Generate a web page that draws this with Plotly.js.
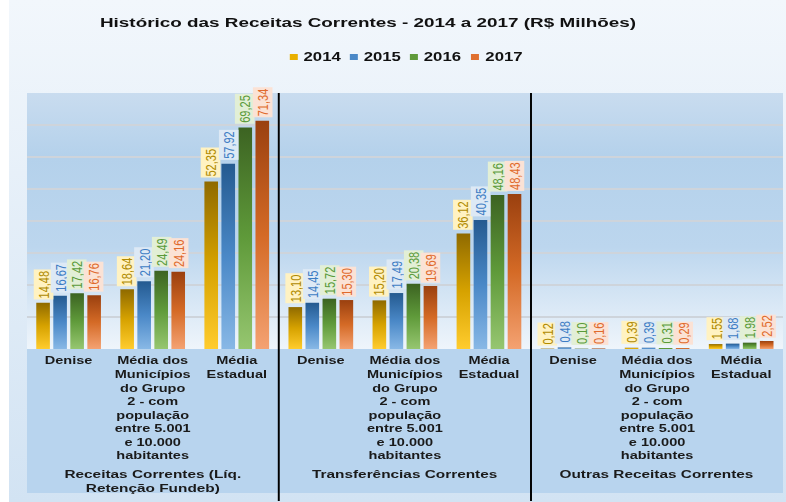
<!DOCTYPE html>
<html>
<head>
<meta charset="utf-8">
<script src="https://cdn.plot.ly/plotly-3.0.1.min.js"></script>
<style>
html,body{margin:0;padding:0;background:#ffffff;overflow:hidden;}
#wrap{position:relative;width:786px;height:502px;overflow:hidden;}
.bg{position:absolute;}
#chart{position:absolute;left:0;top:0;width:562px;height:502px;transform:scaleX(1.398577);transform-origin:0 0;}
</style>
</head>
<body>
<div id="wrap">
  <div class="bg" style="left:9px;top:0;width:777px;height:502px;background:linear-gradient(#f2f7fc,#d2e3f3);"></div>
  <div class="bg" style="left:27px;top:93px;width:756px;height:256px;background:linear-gradient(#c9dcef 0%,#b4d1eb 25%,#bcd6ee 60%,#eff5fb 100%);"></div>
  <div class="bg" style="left:27px;top:349px;width:756px;height:144px;background:#b8d4ee;"></div>
  <div id="chart"></div>
</div>
<script>
// ---------------- DATA ----------------
var groups = ["Receitas Correntes (Líq.<br>Retenção Fundeb)", "Transferências Correntes", "Outras Receitas Correntes"];
var categories = ["Denise",
  "Média dos<br>Municípios<br>do Grupo<br>2 - com<br>população<br>entre 5.001<br>e 10.000<br>habitantes",
  "Média<br>Estadual"];
var years = ["2014", "2015", "2016", "2017"];
var v2014 = [14.48, 18.64, 52.35, 13.10, 15.20, 36.12, 0.12, 0.39, 1.55];
var v2015 = [16.67, 21.20, 57.92, 14.45, 17.49, 40.35, 0.48, 0.39, 1.68];
var v2016 = [17.42, 24.49, 69.25, 15.72, 20.38, 48.16, 0.10, 0.31, 1.98];
var v2017 = [16.76, 24.16, 71.34, 15.30, 19.69, 48.43, 0.16, 0.29, 2.52];
var titleText = "Histórico das Receitas Correntes - 2014 a 2017 (R$ Milhões)";

// ---------------- STYLE ----------------
var series = [v2014, v2015, v2016, v2017];
var solid = ["#e9b000", "#4a88c7", "#5f9a3a", "#e07030"];
var gradStops = [
  ["#8f6a00", "#d6a200", "#ffcc2e"],
  ["#245a90", "#4a88c7", "#88b8e6"],
  ["#3c6322", "#5f9a3a", "#96c670"],
  ["#9a400f", "#d46a26", "#f4a272"]
];
var lblBg = ["#fff2c2", "#dde9f5", "#e2efd6", "#fbe2d5"];
var lblFg = ["#b08a00", "#3d7dc4", "#5a9a3a", "#e06a2c"];
var FONT = "Liberation Sans, Arial, sans-serif";

var S = 786 / 562;           // horizontal stretch
var ML = 27 / S, MR = 562 - 783 / S, MT = 93, MB = 502 - 349;
var plotW = 562 - ML - MR, plotH = 502 - MT - MB;
function px2paperX(xa) { return (xa / S - ML) / plotW; }
function px2paperY(ya) { return 1 - (ya - MT) / plotH; }

var n = v2014.length;
var xs = [], tickText = [];
for (var i = 0; i < n; i++) { xs.push(i); tickText.push(categories[i % 3]); }

var bargap = 0.19;
var slot = (1 - bargap) / 4;

var traces = series.map(function (vals, s) {
  return {
    type: "bar", x: xs, y: vals, name: years[s],
    marker: { color: solid[s], line: { width: 0 } },
    hoverinfo: "skip", showlegend: false
  };
});

function fmt(v) { return v.toFixed(2).replace(".", ","); }

var annotations = [];
series.forEach(function (vals, s) {
  vals.forEach(function (v, i) {
    annotations.push({
      x: i + (s - 1.5) * slot, y: v, xref: "x", yref: "y",
      text: fmt(v), showarrow: false, textangle: -90,
      xanchor: "center", yanchor: "bottom", yshift: 3,
      bgcolor: lblBg[s], borderpad: 0.5,
      font: { family: FONT, size: 11, color: lblFg[s] }
    });
  });
});
groups.forEach(function (g, k) {
  annotations.push({
    x: 3 * k + 1, xref: "x", y: px2paperY(466), yref: "paper",
    text: g, showarrow: false, xanchor: "center", yanchor: "top",
    font: { family: FONT, size: 11, color: "#1a1a1a", weight: "bold" }
  });
});

// legend (manual, compact)
var legSq = [290, 350, 410, 471];
var legY = 57;
var shapes = [];
years.forEach(function (y, s) {
  shapes.push({
    type: "rect", xref: "paper", yref: "paper",
    x0: px2paperX(legSq[s]), x1: px2paperX(legSq[s] + 8),
    y0: px2paperY(legY + 3), y1: px2paperY(legY - 3),
    fillcolor: solid[s], line: { width: 0 }
  });
  annotations.push({
    x: px2paperX(legSq[s] + 11), xref: "paper", y: px2paperY(legY), yref: "paper",
    text: y, showarrow: false, xanchor: "left", yanchor: "middle",
    font: { family: FONT, size: 12, color: "#111111", weight: "bold" }
  });
});
[2.5, 5.5].forEach(function (xv) {
  shapes.push({
    type: "line", xref: "x", yref: "paper", x0: xv, x1: xv,
    y0: px2paperY(501), y1: 1, line: { color: "#000000", width: 1.4 }
  });
});

var layout = {
  width: 562, height: 502,
  margin: { l: ML, r: MR, t: MT, b: MB, pad: 0 },
  paper_bgcolor: "rgba(0,0,0,0)", plot_bgcolor: "rgba(0,0,0,0)",
  font: { family: FONT, color: "#1a1a1a" },
  title: {
    text: titleText, x: 368 / 786, xanchor: "center", xref: "container",
    y: 1 - 22 / 502, yanchor: "middle", yref: "container",
    font: { family: FONT, size: 13.5, color: "#111111", weight: "bold" }
  },
  barmode: "group", bargap: bargap, bargroupgap: 0.2,
  xaxis: {
    range: [-0.5, 8.5], tickmode: "array", tickvals: xs, ticktext: tickText,
    showgrid: false, zeroline: false, showline: false,
    ticks: "outside", ticklen: 2, tickcolor: "rgba(0,0,0,0)",
    tickfont: { family: FONT, size: 10.4, color: "#1a1a1a", weight: "bold" },
    tickangle: 0, fixedrange: true
  },
  yaxis: {
    range: [0, 80], dtick: 10, showticklabels: false, showgrid: true,
    gridcolor: "rgba(206,212,219,1)", gridwidth: 1.8,
    zeroline: false, showline: false, fixedrange: true
  },
  annotations: annotations, shapes: shapes, showlegend: false
};

var gd = document.getElementById("chart");
Plotly.newPlot(gd, traces, layout, { staticPlot: true, displayModeBar: false }).then(function () {
  var svg = gd.querySelector("svg.main-svg");
  var defs = svg.querySelector("defs") || svg.insertBefore(document.createElementNS("http://www.w3.org/2000/svg", "defs"), svg.firstChild);
  var ns = "http://www.w3.org/2000/svg";
  gradStops.forEach(function (stops, s) {
    var lg = document.createElementNS(ns, "linearGradient");
    lg.setAttribute("id", "bargrad" + s);
    lg.setAttribute("x1", "0"); lg.setAttribute("y1", "0");
    lg.setAttribute("x2", "0"); lg.setAttribute("y2", "1");
    stops.forEach(function (c, k) {
      var st = document.createElementNS(ns, "stop");
      st.setAttribute("offset", (k / (stops.length - 1) * 100) + "%");
      st.setAttribute("stop-color", c);
      lg.appendChild(st);
    });
    defs.appendChild(lg);
  });
  var tr = gd.querySelectorAll(".barlayer .trace");
  tr.forEach(function (t, s) {
    t.querySelectorAll("path").forEach(function (p) { p.style.fill = "url(#bargrad" + s + ")"; });
  });
});
</script>
</body>
</html>
